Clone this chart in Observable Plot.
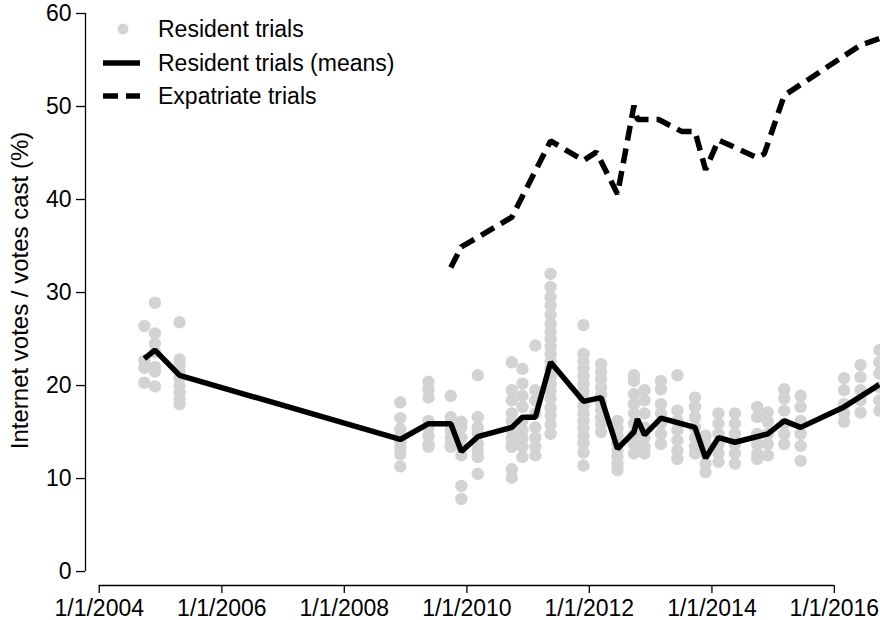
<!DOCTYPE html>
<html><head><meta charset="utf-8">
<script src="https://cdn.jsdelivr.net/npm/d3@7"></script>
<script src="https://cdn.jsdelivr.net/npm/@observablehq/plot@0.6"></script>
<style>
body{margin:0;background:#fff;font-family:"Liberation Sans",Arial,sans-serif;}
#wrap{position:relative;width:880px;height:620px;}
.lg{position:absolute;left:100px;height:30px;display:flex;align-items:center;font-size:23px;color:#000;white-space:nowrap;}
.lg svg{margin-right:16px;}
</style></head><body>
<div id="wrap"><div id="chart"></div><div id="legend"></div></div>
<script>
// Resident trials: one column of values per voting date
const residentDates = ["2004-09-26","2004-11-28","2005-04-24","2008-11-30","2009-05-17","2009-09-27","2009-11-29","2010-03-07","2010-09-26","2010-11-28","2011-02-13","2011-05-15","2011-11-27","2012-03-11","2012-06-17","2012-09-23","2012-11-25","2013-03-03","2013-06-09","2013-09-22","2013-11-24","2014-02-09","2014-05-18","2014-09-28","2014-11-30","2015-03-08","2015-06-14","2016-02-28","2016-06-05","2016-09-25"];
const residentValues = [
  [26.4,22.7,21.9,20.3],
  [28.9,25.6,24.5,23.6,22.0,21.5,19.9],
  [26.8,22.8,22.2,21.5,20.8,20.0,19.2,18.5,18.0],
  [18.2,16.5,15.3,14.6,14.0,13.3,12.6,11.3],
  [20.4,19.6,18.7,16.2,15.5,14.6,13.7,13.4],
  [18.9,16.6,15.9,15.2,14.4,13.7,13.4],
  [16.1,15.5,14.4,13.4,12.5,9.2,7.8],
  [21.1,16.6,15.5,14.8,13.7,13.0,12.3,10.5],
  [22.5,19.5,18.4,17.0,16.2,15.2,14.4,13.7,13.4,11.0,10.1],
  [21.8,20.2,18.9,17.7,16.2,15.2,14.3,13.4,12.3],
  [24.3,19.5,18.4,17.0,15.5,14.4,13.4,12.5],
  [32.0,30.6,29.5,28.6,27.6,26.6,25.8,25.0,24.2,23.4,22.6,21.8,21.0,20.2,19.4,18.6,17.6,16.8,15.8,14.8],
  [26.5,23.4,22.6,21.8,21.0,20.2,19.4,18.6,17.8,17.0,16.2,15.4,14.6,13.8,12.8,11.4],
  [22.3,21.5,20.7,19.8,19.0,18.2,17.4,16.6,15.8,15.0],
  [16.2,15.4,14.6,13.8,13.0,12.3,11.6,10.9],
  [21.1,20.5,19.1,18.0,17.0,15.9,14.8,13.7,12.7],
  [19.5,18.4,17.0,15.5,14.4,13.4,12.7],
  [20.5,19.6,18.0,17.0,15.9,14.8,13.7],
  [21.1,17.3,16.2,15.2,14.1,13.0,12.1],
  [18.7,17.7,16.6,15.5,14.4,13.4,12.7],
  [14.6,13.7,12.7,11.6,10.7],
  [17.0,15.9,14.8,13.7,12.7,11.8],
  [17.0,15.9,14.8,13.7,12.7,11.6],
  [17.7,16.6,14.8,13.7,12.7,12.1],
  [17.1,16.1,14.8,13.7,12.5],
  [19.6,18.6,17.3,15.9,14.8,13.7],
  [18.9,17.7,16.2,14.8,13.5,11.9],
  [20.8,19.5,18.0,17.0,16.1],
  [22.2,20.9,19.5,18.4,17.1],
  [23.8,22.5,21.3,19.8,18.4,17.3]
];
// Resident trials (means)
const meanDates = ["2004-09-26","2004-11-28","2005-04-24","2008-11-30","2009-05-17","2009-09-27","2009-11-29","2010-03-07","2010-09-26","2010-11-28","2011-02-13","2011-05-15","2011-11-27","2012-03-11","2012-06-17","2012-09-23","2012-10-14","2012-11-25","2013-03-03","2013-09-22","2013-11-24","2014-02-09","2014-05-18","2014-11-30","2015-03-08","2015-06-14","2016-02-28","2016-09-25"];
const meanValues = [22.9,23.8,21.1,14.2,15.9,15.9,12.9,14.5,15.5,16.6,16.6,22.5,18.3,18.7,13.2,15.0,16.4,14.7,16.5,15.5,12.2,14.4,13.9,14.8,16.2,15.5,17.7,20.1];
// Expatriate trials
const expatDates = ["2009-09-27","2009-11-29","2010-09-26","2011-05-15","2011-11-27","2012-02-12","2012-06-17","2012-09-23","2012-10-14","2013-02-17","2013-07-07","2013-09-22","2013-11-24","2014-02-09","2014-09-28","2014-11-09","2015-03-08","2016-06-05","2016-09-25"];
const expatValues = [32.7,34.9,38.1,46.3,44.2,45.1,40.6,50.1,48.6,48.6,47.3,47.3,43.2,46.4,44.5,44.9,51.2,56.6,57.3];

const xTickDates = ["2004-01-01","2006-01-01","2008-01-01","2010-01-01","2012-01-01","2014-01-01","2016-01-01"];
const yTicks = [0,10,20,30,40,50,60];
const yLabel = "Internet votes / votes cast (%)";
const legendLabels = ["Resident trials","Resident trials (means)","Expatriate trials"];

const points = residentDates.flatMap((d,i)=>residentValues[i].map(v=>({date:new Date(d),value:v})));
const means = meanDates.map((d,i)=>({date:new Date(d),value:meanValues[i]}));
const expat = expatDates.map((d,i)=>({date:new Date(d),value:expatValues[i]}));
const xt = xTickDates.map(d=>new Date(d));
const yMin = -1.5;
const xMin = new Date("2003-10-11");

const chart = Plot.plot({
  width:880, height:620,
  marginLeft:85, marginRight:0, marginTop:13, marginBottom:35,
  x:{type:"utc", domain:[xMin, new Date("2016-10-02")]},
  y:{domain:[yMin,60]},
  style:{fontFamily:"'Liberation Sans', Arial, sans-serif", fontSize:"23px", background:"white", color:"black"},
  marks:[
    Plot.dot(points,{x:"date",y:"value",r:6.2,fill:"#d3d3d3",stroke:"none"}),
    Plot.line(means,{x:"date",y:"value",stroke:"black",strokeWidth:5.5,strokeLinejoin:"miter",strokeLinecap:"butt"}),
    Plot.line(expat,{x:"date",y:"value",stroke:"black",strokeWidth:5.5,strokeDasharray:"15,8",strokeLinejoin:"miter",strokeLinecap:"butt"}),
    Plot.axisY(yTicks,{tickSize:9,tickPadding:5,label:null,strokeWidth:1.3}),
    Plot.ruleX([xMin],{y1:0,y2:60,strokeWidth:1.3}),
    Plot.axisX(xt,{tickSize:8,tickPadding:6,label:null,strokeWidth:1.3,tickFormat:d=>`1/1/${d.getUTCFullYear()}`}),
    Plot.ruleY([yMin],{x1:xt[0],x2:xt[xt.length-1],strokeWidth:1.3}),
    Plot.text([yLabel],{frameAnchor:"left",rotate:-90,dx:-65,dy:-9,textAnchor:"middle",fontSize:24})
  ]
});
document.getElementById("chart").appendChild(chart);

// legend overlay
const sw = [
  `<svg width="42" height="30"><circle cx="23" cy="15" r="5.5" fill="#d3d3d3"/></svg>`,
  `<svg width="42" height="30"><line x1="3" x2="40" y1="15" y2="15" stroke="black" stroke-width="5.5"/></svg>`,
  `<svg width="42" height="30"><line x1="3" x2="40" y1="15" y2="15" stroke="black" stroke-width="5.5" stroke-dasharray="15,8"/></svg>`
];
const tops = [14,48,81];
document.getElementById("legend").innerHTML = legendLabels.map((t,i)=>
  `<div class="lg" style="top:${tops[i]}px">${sw[i]}<span>${t}</span></div>`).join("");
</script>
</body></html>
